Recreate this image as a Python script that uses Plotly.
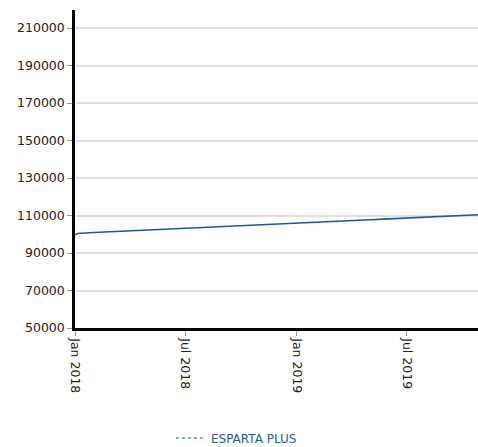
import plotly.graph_objects as go

dates = ["2018-01-01", "2018-01-05", "2018-02-01", "2018-03-01", "2018-04-01", "2018-05-01",
         "2018-06-01", "2018-07-01", "2018-08-01", "2018-09-01", "2018-10-01", "2018-11-01",
         "2018-12-01", "2019-01-01", "2019-02-01", "2019-03-01", "2019-04-01", "2019-05-01",
         "2019-06-01", "2019-07-01", "2019-08-01", "2019-09-01", "2019-10-01", "2019-10-26"]
values = [99700, 100400, 100900, 101300, 101700, 102200,
          102600, 103100, 103500, 104100, 104600, 105000,
          105400, 105900, 106300, 106800, 107200, 107700,
          108200, 108700, 109200, 109700, 110100, 110400]
series_name = "ESPARTA PLUS"
y_ticks = [50000, 70000, 90000, 110000, 130000, 150000, 170000, 190000, 210000]
y_tick_labels = [str(v) for v in y_ticks]

line_color = "#1f5a96"
font_family = "DejaVu Sans, Verdana, sans-serif"

fig = go.Figure()
fig.add_trace(go.Scatter(x=dates, y=values, mode="lines", name=series_name,
                         line=dict(color=line_color, width=1.6), showlegend=False))
fig.add_trace(go.Scatter(x=[None], y=[None], mode="lines", name=series_name,
                         line=dict(color=line_color, width=1, dash="dot")))

fig.update_layout(
    width=478, height=447,
    margin=dict(l=75, r=0, t=10, b=119, autoexpand=False),
    paper_bgcolor="white", plot_bgcolor="white",
    font=dict(family=font_family, size=12.5, color="#222"),
    showlegend=True,
    legend=dict(orientation="h", x=0.4006, xanchor="center", y=-0.346, yanchor="middle",
                font=dict(color="#2a5b95", size=12), itemwidth=30),
    xaxis=dict(type="date", range=["2018-01-01", "2019-10-26"],
               tickformat="%b %Y", dtick="M6", tick0="2018-01-01", tickangle=90,
               showline=True, linecolor="black", linewidth=2.5, automargin=False,
               ticks="outside", ticklen=5, tickcolor="#999", showgrid=False, zeroline=False),
    yaxis=dict(range=[50000, 219600], tickvals=y_ticks, ticktext=y_tick_labels,
               showline=True, linecolor="black", linewidth=2.5, automargin=False,
               ticks="outside", ticklen=5, tickcolor="#999",
               showgrid=True, gridcolor="#e0e0e0", gridwidth=2, zeroline=False),
)

fig.write_html("out.html", config={"displayModeBar": False},
               post_script="document.body.style.margin='0px';")
